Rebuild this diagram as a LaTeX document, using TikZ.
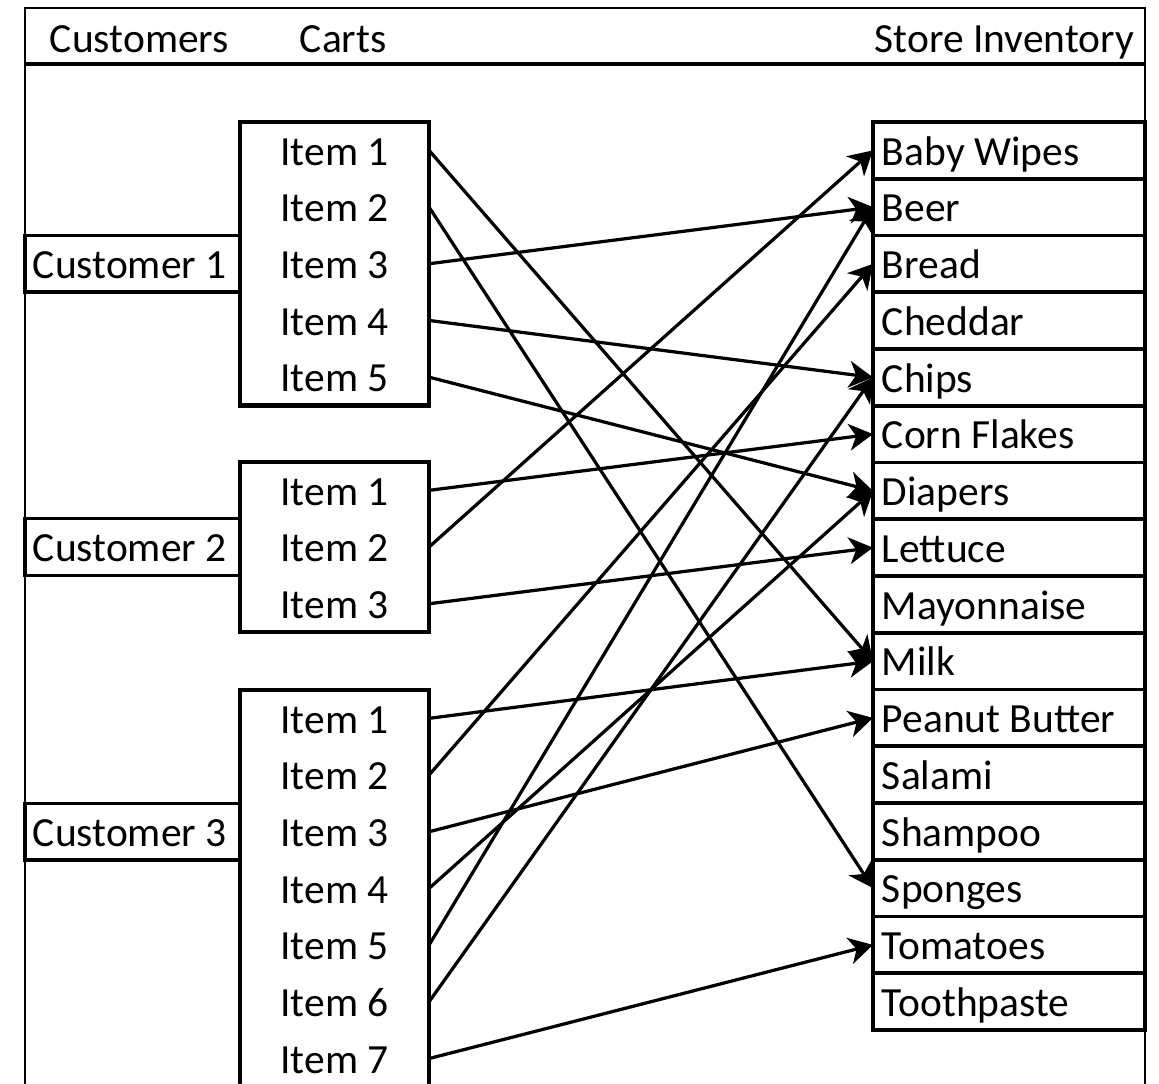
\documentclass[tikz,border=0pt]{standalone}
\usepackage{fontspec}
\setmainfont{Carlito}
\usetikzlibrary{arrows.meta,positioning}

\tikzset{
  lbl/.style={font=\fontsize{29.5}{35}\selectfont,text height=21pt,text depth=0pt},
  item/.style={lbl,inner sep=0pt,outer sep=0pt,minimum width=4.725cm,minimum height=1.4175cm},
  cartframe/.style={line width=3.2pt},
  custbox/.style={lbl,draw,line width=2.5pt,outer sep=0pt,inner xsep=0.2cm,
    text width=4.975cm,align=flush left,minimum height=1.4175cm},
  invbox/.style={lbl,draw,line width=2.5pt,outer sep=0pt,inner xsep=0.225cm,
    text width=6.35cm,align=flush left,minimum height=1.419cm},
  link/.style={line width=2.3pt,-{Stealth[length=17pt,width=19pt,inset=5pt]}}
}

\begin{document}
\begin{tikzpicture}[x=0.025cm,y=-0.025cm]
        \useasboundingbox (0,0) rectangle (1159,1084);
        \clip (0,0) rectangle (1159,1084);
        % frame and header
        \draw[line width=1.9pt] (25,1100) -- (25,8) -- (1145,8) -- (1145,1100);
        \draw[line width=2.5pt] (25,64) -- (1145,64);
        \node[lbl,anchor=base west] (hcust) at (45,53) {Customers};
        \node[lbl,anchor=base west] (hcart) at (295,53) {Carts};
        \node[lbl,anchor=base east] (hinv) at (1139,53) {Store Inventory};
        % carts
        \foreach \k in {1,...,5}
          \node[item] (c1i\k) at (334.5,{122+56.7*(\k-0.5)}) {Item \k};
        \foreach \k in {1,...,3}
          \node[item] (c2i\k) at (334.5,{462+56.7*(\k-0.5)}) {Item \k};
        \foreach \k in {1,...,7}
          \node[item] (c3i\k) at (334.5,{690+56.7*(\k-0.5)}) {Item \k};
        \draw[cartframe] (c1i1.north west) rectangle (c1i5.south east);
        \draw[cartframe] (c2i1.north west) rectangle (c2i3.south east);
        \draw[cartframe] (c3i1.north west) rectangle (c3i7.south east);
        % customers
        \node[custbox,left=0pt of c1i3] (cust1) {Customer 1};
        \node[custbox,left=0pt of c2i2] (cust2) {Customer 2};
        \node[custbox,left=0pt of c3i3] (cust3) {Customer 3};
        % store inventory
        \foreach \n/\t [count=\k] in {wipes/Baby Wipes,beer/Beer,bread/Bread,cheddar/Cheddar,
            chips/Chips,flakes/Corn Flakes,diapers/Diapers,lettuce/Lettuce,mayo/Mayonnaise,
            milk/Milk,pbutter/Peanut Butter,salami/Salami,shampoo/Shampoo,sponges/Sponges,
            tomatoes/Tomatoes,paste/Toothpaste}
          \node[invbox] (\n) at (1009,{122+56.75*(\k-0.5)}) {\t};
        % what each cart holds
        \foreach \a/\b in {c1i1/milk,c1i2/sponges,c1i3/beer,c1i4/chips,c1i5/diapers,
            c2i1/flakes,c2i2/wipes,c2i3/lettuce,
            c3i1/milk,c3i2/bread,c3i3/pbutter,c3i4/diapers,c3i5/beer,c3i6/chips,c3i7/tomatoes}
          \draw[link] (\a.east) -- (\b.west);
      \end{tikzpicture}
\end{document}
